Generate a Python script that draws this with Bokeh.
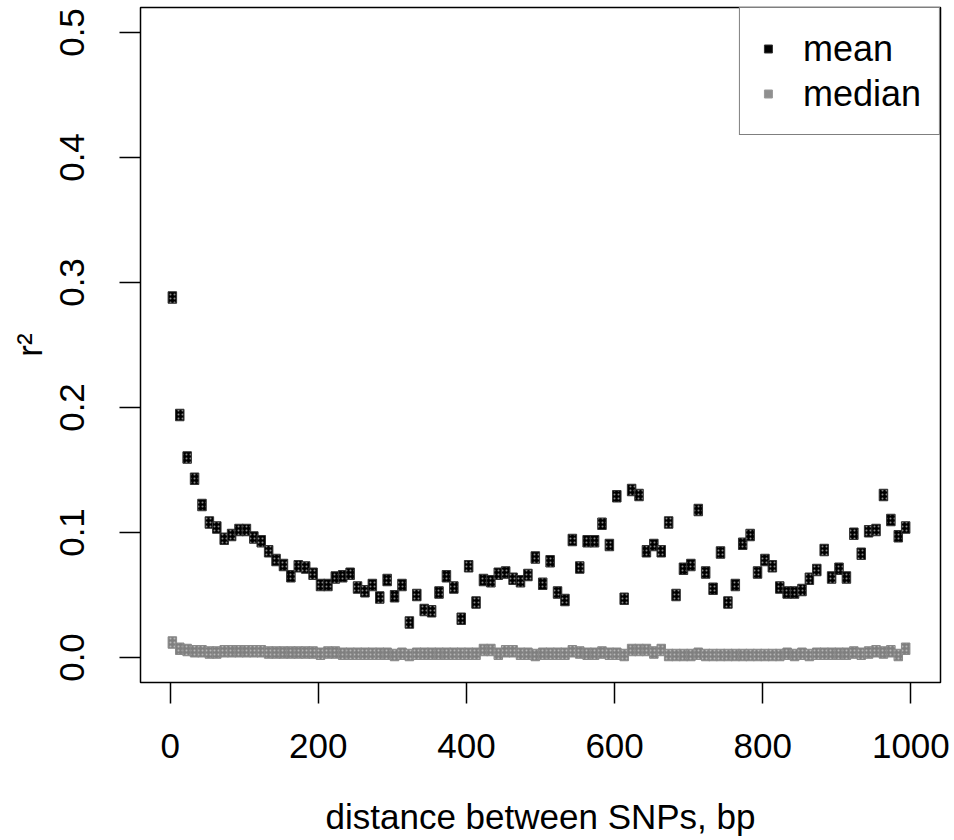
from bokeh.plotting import figure
from bokeh.models import (Range1d, FixedTicker, Legend, LegendItem, ColumnDataSource,
                          CustomJSTickFormatter)
from bokeh.embed import file_html
from bokeh.resources import INLINE

# distance bins (bp)
distance = list(range(3, 1000, 10))

mean_r2 = [0.288, 0.194, 0.160, 0.143, 0.122, 0.108, 0.104, 0.095, 0.098, 0.102,
           0.102, 0.096, 0.093, 0.085, 0.078, 0.074, 0.065, 0.073, 0.072, 0.067,
           0.058, 0.058, 0.064, 0.065, 0.067, 0.056, 0.053, 0.058, 0.048, 0.062,
           0.049, 0.058, 0.028, 0.050, 0.038, 0.037, 0.052, 0.065, 0.056, 0.031,
           0.073, 0.044, 0.062, 0.061, 0.067, 0.068, 0.063, 0.061, 0.066, 0.080,
           0.059, 0.077, 0.052, 0.046, 0.094, 0.072, 0.093, 0.093, 0.107, 0.090,
           0.129, 0.047, 0.134, 0.130, 0.085, 0.090, 0.085, 0.108, 0.050, 0.071,
           0.074, 0.118, 0.068, 0.055, 0.084, 0.044, 0.058, 0.091, 0.098, 0.068,
           0.078, 0.073, 0.056, 0.052, 0.052, 0.054, 0.063, 0.070, 0.086, 0.064,
           0.071, 0.064, 0.099, 0.083, 0.101, 0.102, 0.130, 0.110, 0.097, 0.104]

median_r2 = [0.012, 0.007, 0.006, 0.005, 0.005, 0.004, 0.004, 0.005, 0.005, 0.005,
             0.005, 0.005, 0.005, 0.004, 0.004, 0.004, 0.004, 0.004, 0.004, 0.004,
             0.003, 0.004, 0.004, 0.003, 0.003, 0.003, 0.003, 0.003, 0.003, 0.003,
             0.002, 0.003, 0.002, 0.003, 0.003, 0.003, 0.003, 0.003, 0.003, 0.003,
             0.003, 0.003, 0.006, 0.006, 0.003, 0.005, 0.005, 0.003, 0.003, 0.002,
             0.003, 0.003, 0.003, 0.003, 0.005, 0.004, 0.003, 0.003, 0.004, 0.003,
             0.003, 0.002, 0.006, 0.006, 0.006, 0.004, 0.006, 0.002, 0.002, 0.002,
             0.002, 0.003, 0.002, 0.002, 0.002, 0.002, 0.002, 0.002, 0.002, 0.002,
             0.002, 0.002, 0.002, 0.003, 0.002, 0.003, 0.002, 0.003, 0.003, 0.003,
             0.003, 0.003, 0.004, 0.003, 0.004, 0.005, 0.004, 0.005, 0.002, 0.007]

x_ticks = [0, 200, 400, 600, 800, 1000]
y_ticks = [0.0, 0.1, 0.2, 0.3, 0.4, 0.5]
series_labels = ["mean", "median"]

FONT = "Liberation Sans"

p = figure(width=954, height=840, output_backend="svg", toolbar_location=None,
           x_range=Range1d(-40, 1040), y_range=Range1d(-0.02, 0.52),
           min_border_left=140, min_border_right=14, min_border_top=7,
           min_border_bottom=158)
p.background_fill_color = "white"
p.border_fill_color = "white"
p.grid.visible = False
p.outline_line_color = "black"
p.outline_line_width = 1.5

src_mean = ColumnDataSource(dict(x=distance, y=mean_r2))
src_med = ColumnDataSource(dict(x=distance, y=median_r2))

# small square markers underneath (hidden by the rects) -> used for the legend
leg_med = p.scatter("x", "y", source=src_med, marker="square", size=6,
                    fill_color="#8f8f8f", line_color="#9a9a9a")
leg_mean = p.scatter("x", "y", source=src_mean, marker="square", size=6,
                     fill_color="black", line_color="#333333")

p.rect("x", "y", width=8.5, height=11.5, width_units="screen", height_units="screen",
       source=src_med, fill_color="#7f7f7f", line_color="#8a8a8a", line_width=1,
       hatch_pattern="dot", hatch_color="#b8b8b8", hatch_scale=4, hatch_weight=1)
p.rect("x", "y", width=8.5, height=11.5, width_units="screen", height_units="screen",
       source=src_mean, fill_color="black", line_color="#333333", line_width=1,
       hatch_pattern="dot", hatch_color="#888888", hatch_scale=4, hatch_weight=1)

legend = Legend(items=[LegendItem(label=series_labels[0], renderers=[leg_mean]),
                       LegendItem(label=series_labels[1], renderers=[leg_med])],
                location="top_right", margin=0, padding=18, spacing=0,
                glyph_width=20, glyph_height=45, label_height=45, label_standoff=25,
                label_text_font=FONT, label_text_font_size="36px",
                label_text_color="black",
                border_line_color="black", border_line_width=1.5,
                background_fill_color="white", background_fill_alpha=1.0)
p.add_layout(legend)

# axes
p.xaxis.ticker = FixedTicker(ticks=x_ticks)
p.yaxis.ticker = FixedTicker(ticks=y_ticks)
p.yaxis.formatter = CustomJSTickFormatter(code="return tick.toFixed(1);")
for ax in (p.xaxis[0], p.yaxis[0]):
    ax.axis_line_color = None
    ax.major_tick_in = 0
    ax.major_tick_out = 21
    ax.major_tick_line_color = "black"
    ax.major_tick_line_width = 1.5
    ax.minor_tick_line_color = None
    ax.major_label_text_font = FONT
    ax.major_label_text_font_size = "35px"
    ax.major_label_text_color = "black"
    ax.axis_label_text_font = FONT
    ax.axis_label_text_font_size = "35px"
    ax.axis_label_text_font_style = "normal"
    ax.axis_label_text_color = "black"

p.xaxis.axis_label = "distance between SNPs, bp"
p.xaxis.major_label_standoff = 30
p.xaxis.axis_label_standoff = 36
p.yaxis.axis_label = "r²"
p.yaxis.major_label_orientation = "vertical"
p.yaxis.major_label_standoff = 36
p.yaxis.axis_label_standoff = 8

open("out.html", "w").write(file_html(p, INLINE))
